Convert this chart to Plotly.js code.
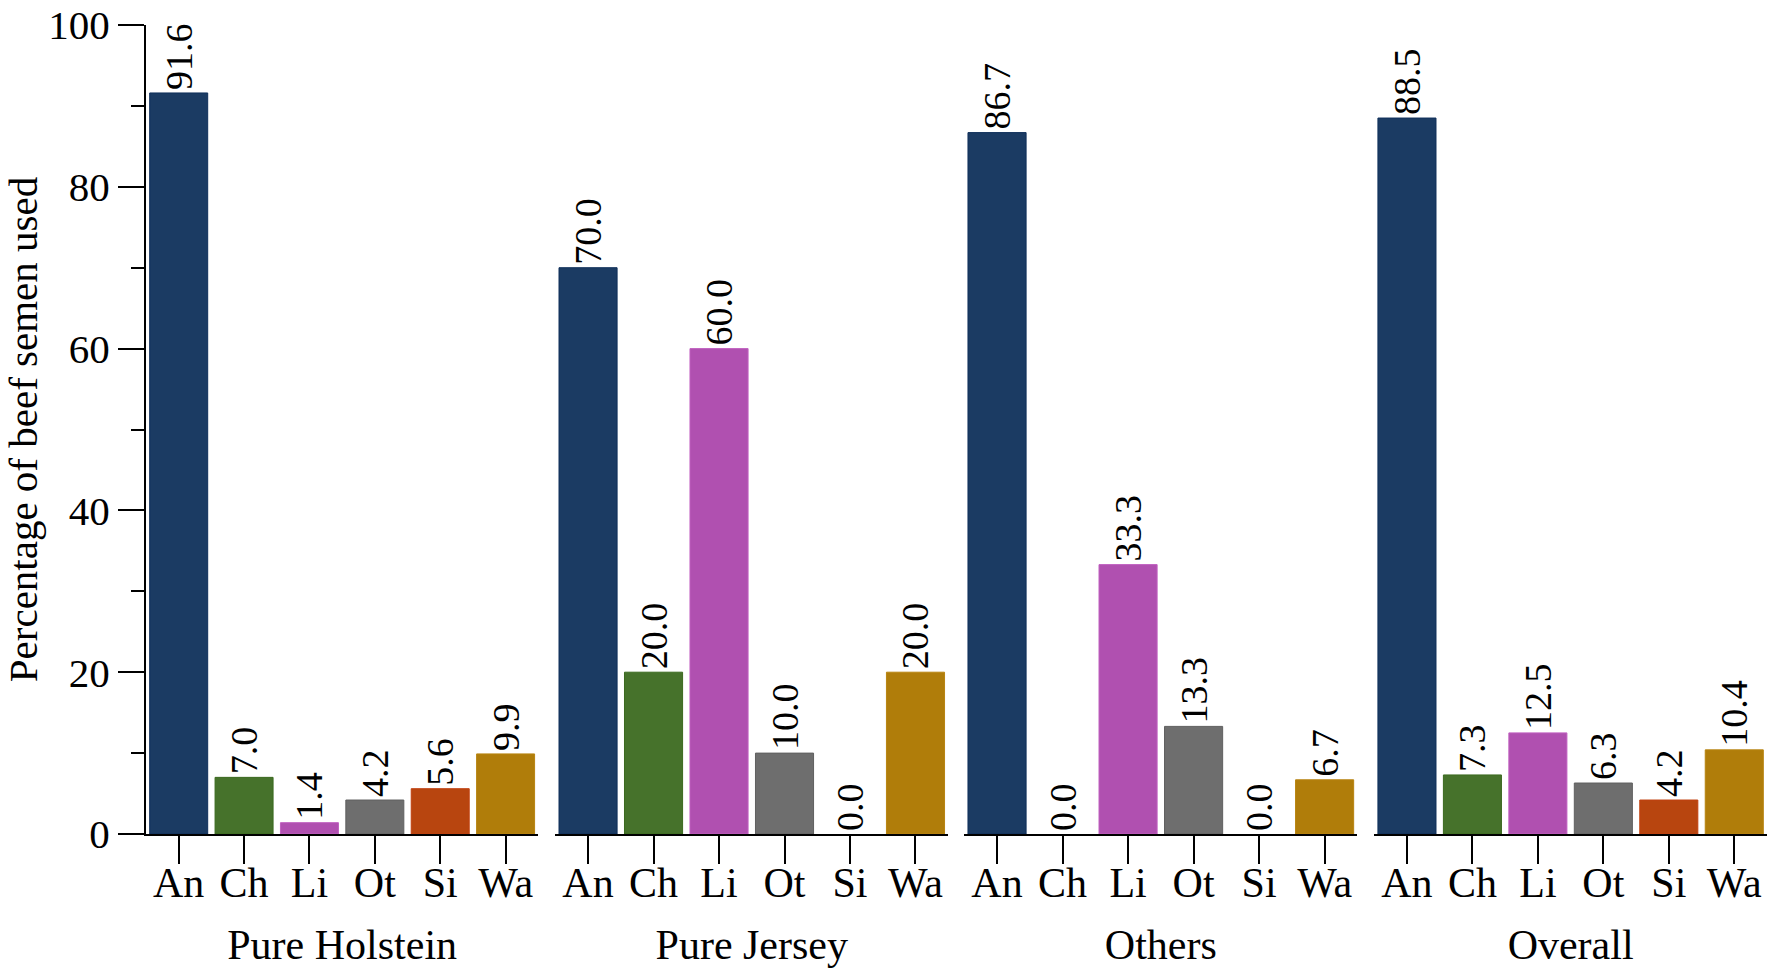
<!DOCTYPE html>
<html>
<head>
<meta charset="utf-8">
<script src="https://cdn.plot.ly/plotly-3.0.1.min.js"></script>
<style>html,body{margin:0;padding:0;background:#fff;}</style>
</head>
<body>
<div id="chart" style="width:1772px;height:972px;"></div>
<script>
const breeds = ["An", "Ch", "Li", "Ot", "Si", "Wa"];
const groups = ["Pure Holstein", "Pure Jersey", "Others", "Overall"];
const pureHolstein = [91.6, 7.0, 1.4, 4.2, 5.6, 9.9];
const pureJersey = [70.0, 20.0, 60.0, 10.0, 0.0, 20.0];
const others = [86.7, 0.0, 33.3, 13.3, 0.0, 6.7];
const overall = [88.5, 7.3, 12.5, 6.3, 4.2, 10.4];
const yTicks = [0, 20, 40, 60, 80, 100];

const barColors = ["#1B3B63", "#46722B", "#B050B0", "#6E6E6E", "#B8450F", "#B07D0A"];
const lineColors = ["#0F2F5A", "#3B6A1F", "#C060C0", "#606060", "#C04010", "#B88410"];
const series = [pureHolstein, pureJersey, others, overall];
const FONT = "Liberation Serif, Times New Roman, serif";

const traces = series.map((vals, i) => ({
  type: "bar",
  x: breeds,
  y: vals,
  xaxis: i === 0 ? "x" : "x" + (i + 1),
  yaxis: "y",
  marker: { color: barColors, line: { color: lineColors, width: vals.map(v => v === 0 ? 0 : 1) } },
  texttemplate: "%{y:.1f}",
  textposition: "outside",
  textangle: -90,
  constraintext: "none",
  cliponaxis: false,
  textfont: { family: FONT, size: 38, color: "#000" },
  hoverinfo: "x+y",
  showlegend: false
}));

const domains = [[0, 0.2420], [0.2525, 0.4949], [0.5048, 0.7473], [0.7577, 1.0]];

const layout = {
  width: 1772,
  height: 972,
  margin: { l: 146, r: 5, t: 25, b: 138 },
  paper_bgcolor: "#fff",
  plot_bgcolor: "#fff",
  bargap: 0.113,
  font: { family: FONT, color: "#000" },
  yaxis: {
    range: [0, 100.001],
    tickvals: yTicks,
    ticktext: yTicks.map(String),
    ticks: "outside",
    ticklen: 26,
    tickwidth: 2,
    tickcolor: "#000",
    ticklabeloverflow: "allow",
    showline: true,
    linewidth: 2,
    linecolor: "#000",
    showgrid: false,
    zeroline: false,
    tickfont: { family: FONT, size: 41, color: "#000" },
    minor: { dtick: 10, ticks: "outside", ticklen: 13, tickwidth: 2, tickcolor: "#000", showgrid: false },
    title: { text: "Percentage of beef semen used", font: { family: FONT, size: 41, color: "#000" }, standoff: 29 }
  }
};

groups.forEach((g, i) => {
  const key = i === 0 ? "xaxis" : "xaxis" + (i + 1);
  layout[key] = {
    domain: domains[i],
    anchor: "y",
    type: "category",
    showline: true,
    linewidth: 2,
    linecolor: "#000",
    ticks: "outside",
    ticklen: 28,
    tickwidth: 2,
    tickcolor: "#000",
    ticklabelstandoff: -17,
    showgrid: false,
    zeroline: false,
    tickfont: { family: FONT, size: 42, color: "#000" },
    title: { text: g, font: { family: FONT, size: 42, color: "#000" }, standoff: 24 }
  };
});

Plotly.newPlot("chart", traces, layout, { displayModeBar: false, staticPlot: true });
</script>
</body>
</html>
